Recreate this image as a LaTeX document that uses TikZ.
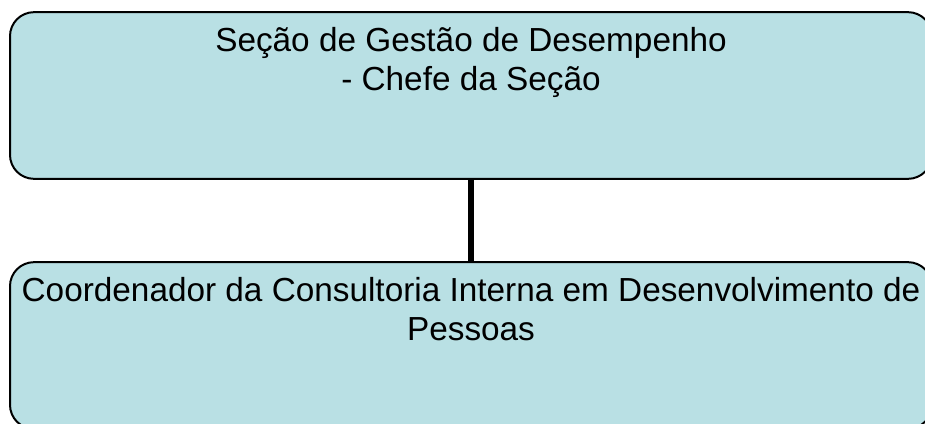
\documentclass[tikz,border=0pt]{standalone}
\usepackage{fontspec}
\setmainfont{Liberation Sans}
\usepackage{xcolor}
\definecolor{boxfill}{RGB}{185,224,228}

\tikzset{
  orgbox/.style={draw, line width=1.5pt, fill=boxfill, rounded corners=18pt,
    minimum width=691.5pt, minimum height=125pt, inner sep=0pt},
  boxtext/.style={anchor=north, inner sep=0pt, align=center,
    font=\fontsize{25}{29.5}\selectfont}
}

\begin{document}
\begin{tikzpicture}[x=0.75pt,y=0.75pt,yscale=-1,xscale=1]

\clip (0,0) rectangle (925,424);
\useasboundingbox (0,0) rectangle (925,424);

% boxes
\node [orgbox] (secao) at (471,95.5) {};
\node [orgbox] (coord) at (471,345.5) {};

% connector
\draw [line width=4.5pt] (secao.south) -- (coord.north);

% texts
\node [boxtext] (secaotxt) at (471,27) {Seção de Gestão de Desempenho\\- Chefe da Seção};
\node [boxtext] (coordtxt) at (471,277) {Coordenador da Consultoria Interna em Desenvolvimento de\\Pessoas};

\end{tikzpicture}
\end{document}
